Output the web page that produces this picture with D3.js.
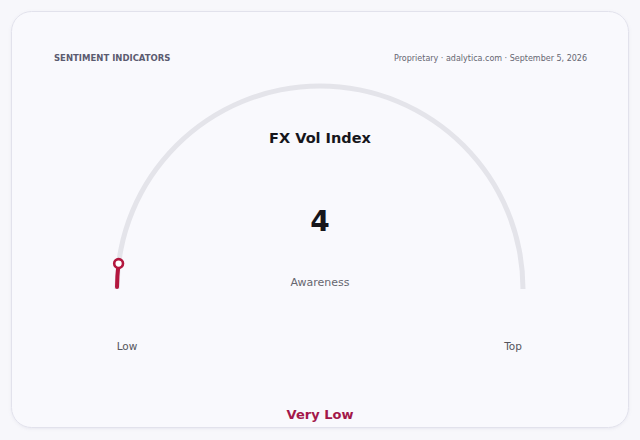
<!DOCTYPE html>
<html>
<head>
<meta charset="utf-8">
<script src="https://cdn.jsdelivr.net/npm/d3@7"></script>
<style>
  html, body { margin: 0; padding: 0; background: #f7f7fb; }
  svg { display: block; font-family: "DejaVu Sans", sans-serif; }
</style>
</head>
<body>
<div id="chart-area"></div>
<script>
// Data
const gaugeDomain = [0, 100];
const gaugeValue = 4;
const endLabels = ["Low", "Top"];
const chartTitle = "FX Vol Index";
const valueCaption = "Awareness";
const ratingLabel = "Very Low";
const headerLeft = "SENTIMENT INDICATORS";
const headerRight = "Proprietary · adalytica.com · September 5, 2026";

// SVG setup
const width = 640;
const height = 440;
const accent = "#b3173f";

const svg = d3.select("#chart-area")
	.append("svg")
	.attr("width", width)
	.attr("height", height);

// Card shadow + card
const defs = svg.append("defs");
const shadow = defs.append("filter")
	.attr("id", "shadow")
	.attr("x", "-10%").attr("y", "-10%")
	.attr("width", "120%").attr("height", "120%");
shadow.append("feDropShadow")
	.attr("dx", 0).attr("dy", 1)
	.attr("stdDeviation", 1.5)
	.attr("flood-color", "#8080a0")
	.attr("flood-opacity", 0.12);

svg.append("rect")
	.attr("x", 11.5)
	.attr("y", 11.5)
	.attr("width", 617)
	.attr("height", 416)
	.attr("rx", 20)
	.attr("fill", "#f9f9fd")
	.attr("stroke", "#e2e2ec")
	.attr("stroke-width", 1)
	.attr("filter", "url(#shadow)");

// Header
svg.append("text")
	.attr("x", 54)
	.attr("y", 61)
	.attr("font-size", "8.5px")
	.attr("font-weight", "bold")
	.attr("fill", "#5b5b70")
	.text(headerLeft);

svg.append("text")
	.attr("x", 587)
	.attr("y", 61)
	.attr("text-anchor", "end")
	.attr("font-size", "8px")
	.attr("fill", "#666672")
	.text(headerRight);

// Gauge
const cx = 320;
const cy = 289;
const radius = 203;

const angle = d3.scaleLinear()
	.domain(gaugeDomain)
	.range([-Math.PI / 2, Math.PI / 2])
	.clamp(true);

const g = svg.append("g")
	.attr("transform", "translate(" + cx + "," + cy + ")");

// Track
const track = d3.arc()
	.innerRadius(radius - 2.5)
	.outerRadius(radius + 2.5)
	.startAngle(angle(gaugeDomain[0]))
	.endAngle(angle(gaugeDomain[1]));

g.append("path")
	.attr("d", track())
	.attr("fill", "#e4e4ea");

// Value arc
const progress = d3.arc()
	.innerRadius(radius - 2)
	.outerRadius(radius + 2)
	.cornerRadius(2)
	.startAngle(angle(gaugeDomain[0]))
	.endAngle(angle(gaugeValue));

g.append("path")
	.attr("d", progress())
	.attr("fill", accent);

// Knob at the value
const a = angle(gaugeValue);
g.append("circle")
	.attr("cx", radius * Math.sin(a))
	.attr("cy", -radius * Math.cos(a))
	.attr("r", 4.4)
	.attr("fill", "#ffffff")
	.attr("stroke", accent)
	.attr("stroke-width", 2.6);

// End labels
const labelX = [127, 513];
endLabels.forEach((d, i) => {
	svg.append("text")
		.attr("x", labelX[i])
		.attr("y", 350)
		.attr("text-anchor", "middle")
		.attr("font-size", "10.5px")
		.attr("fill", "#55555c")
		.text(d);
});

// Center texts
svg.append("text")
	.attr("x", cx)
	.attr("y", 143)
	.attr("text-anchor", "middle")
	.attr("font-size", "14.5px")
	.attr("font-weight", "bold")
	.attr("fill", "#16161c")
	.text(chartTitle);

svg.append("text")
	.attr("x", cx)
	.attr("y", 231)
	.attr("text-anchor", "middle")
	.attr("font-size", "28px")
	.attr("font-weight", "bold")
	.attr("fill", "#16161c")
	.text(gaugeValue);

svg.append("text")
	.attr("x", cx)
	.attr("y", 286)
	.attr("text-anchor", "middle")
	.attr("font-size", "11px")
	.attr("fill", "#66666f")
	.text(valueCaption);

svg.append("text")
	.attr("x", cx)
	.attr("y", 419)
	.attr("text-anchor", "middle")
	.attr("font-size", "13px")
	.attr("font-weight", "bold")
	.attr("fill", "#a3174a")
	.text(ratingLabel);
</script>
</body>
</html>
